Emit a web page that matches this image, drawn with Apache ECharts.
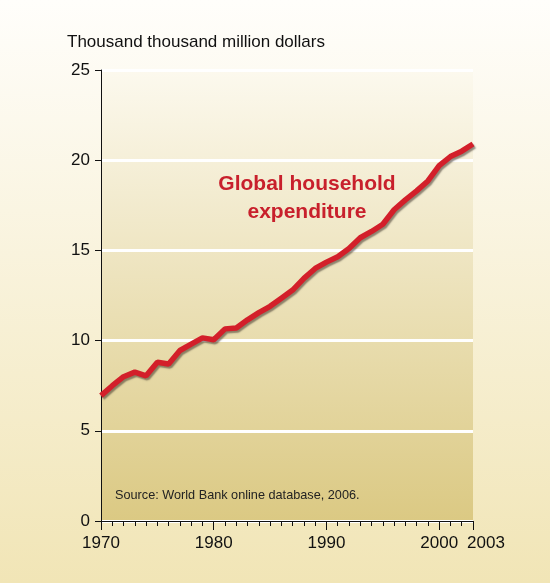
<!DOCTYPE html>
<html>
<head>
<meta charset="utf-8">
<script src="https://cdn.jsdelivr.net/npm/echarts@6/dist/echarts.min.js"></script>
<style>
html,body{margin:0;padding:0;width:550px;height:583px;overflow:hidden;}
#c{width:550px;height:583px;}
</style>
</head>
<body>
<div id="c"></div>
<script>
var years = [1970,1971,1972,1973,1974,1975,1976,1977,1978,1979,1980,1981,1982,1983,1984,1985,1986,1987,1988,1989,1990,1991,1992,1993,1994,1995,1996,1997,1998,1999,2000,2001,2002,2003];
var expenditure = [6.95,7.5,8.0,8.25,8.05,8.8,8.7,9.45,9.8,10.15,10.05,10.65,10.7,11.15,11.55,11.9,12.35,12.8,13.45,14.0,14.35,14.65,15.1,15.7,16.05,16.45,17.25,17.8,18.3,18.85,19.7,20.2,20.5,20.9];
var xLabelYears = [1970,1980,1990,2000];
var xEndLabel = [2003];
var xMajorTicks = [1970,1980,1990,2000,2003];
var yTicks = [0,5,10,15,20,25];

var font = '"Liberation Sans", Arial, Helvetica, sans-serif';
var chart = echarts.init(document.getElementById('c'), null, {renderer:'canvas'});
var data = years.map(function(y,i){return [y, expenditure[i]];});

chart.setOption({
  animation:false,
  backgroundColor:{type:'linear',x:0,y:0,x2:0,y2:1,colorStops:[{offset:0,color:'#fffefb'},{offset:1,color:'#f1e5b6'}]},
  title:{text:'Thousand thousand million dollars',left:62,top:29,textStyle:{fontFamily:font,fontSize:17,fontWeight:'normal',color:'#111'}},
  grid:{left:101,right:77,top:70,bottom:62,show:true,borderWidth:0,
    backgroundColor:{type:'linear',x:0,y:0,x2:0,y2:1,colorStops:[{offset:0,color:'#fcf9ee'},{offset:1,color:'#dbc983'}]}},
  xAxis:[{type:'value',min:1970,max:2003,position:'bottom',
    axisLine:{show:true,lineStyle:{color:'#111',width:1}},
    axisTick:{show:true,inside:false,length:9,customValues:xMajorTicks,lineStyle:{color:'#111'}},
    axisLabel:{customValues:xLabelYears,margin:14,showMinLabel:true,hideOverlap:false,
      formatter:function(v){return String(v);},fontFamily:font,fontSize:17,color:'#111'},
    splitLine:{show:false}},
    {type:'value',min:1970,max:2003,position:'bottom',offset:0,
    axisLine:{show:false},
    axisTick:{show:true,inside:false,length:5,customValues:years,lineStyle:{color:'#111'}},
    axisLabel:{show:true,customValues:xEndLabel,margin:14,showMaxLabel:true,
      formatter:function(v){return '{r|'+v+'}';},
      rich:{r:{fontFamily:font,fontSize:17,color:'#111',padding:[0,0,0,26]}}},
    splitLine:{show:false}}],
  yAxis:{type:'value',min:0,max:25,interval:5,
    axisLine:{show:true,lineStyle:{color:'#111',width:1}},
    axisTick:{show:true,length:6,customValues:yTicks,lineStyle:{color:'#111'}},
    axisLabel:{margin:11,fontFamily:font,fontSize:17,color:'#111'},
    splitLine:{show:true,lineStyle:{color:'#ffffff',width:3}}},
  graphic:[
    {type:'text',style:{text:'Global household\nexpenditure',x:307,y:170,textAlign:'center',fill:'#c8202c',font:'bold 21px '+font,lineHeight:28}},
    {type:'text',style:{text:'Source: World Bank online database, 2006.',x:115,y:489,fill:'#222',font:'12.7px '+font}}
  ],
  series:[{type:'line',data:data,xAxisIndex:0,showSymbol:false,smooth:false,
    lineStyle:{color:'#d31f2a',width:5.5,shadowColor:'rgba(60,50,40,0.55)',shadowOffsetX:1.5,shadowOffsetY:2,shadowBlur:1.5}}]
});
</script>
</body>
</html>
